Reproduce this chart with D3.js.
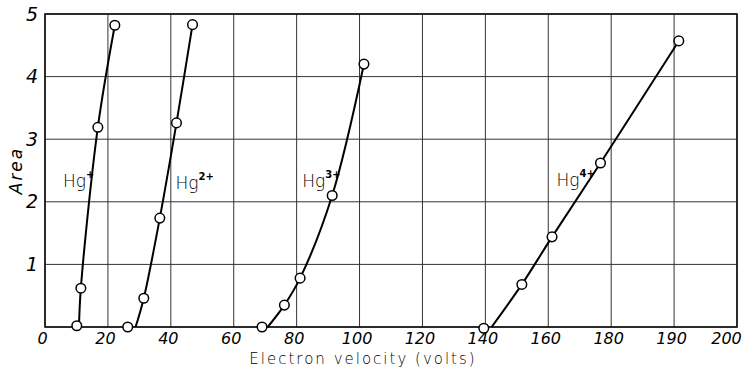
<!DOCTYPE html>
<html>
<head>
<meta charset="utf-8">
<script src="https://cdn.jsdelivr.net/npm/d3@7"></script>
<style>
  body { margin: 0; background: #fff; }
  svg { display: block; }
  .tick text { font-family: "DejaVu Sans", sans-serif; font-style: italic; font-weight: 300; fill: #000; }
</style>
</head>
<body>
<figure id="chart" style="margin:0"></figure>
<script>
// x gridlines (the figure labels its last two lines 190 and 200)
const xTicks = [0, 20, 40, 60, 80, 100, 120, 140, 160, 180, 200, 220];
const xTickLabels = ["0", "20", "40", "60", "80", "100", "120", "140", "160", "180", "190", "200"];
const yTicks = [0, 1, 2, 3, 4, 5];
const yTickLabels = ["", "1", "2", "3", "4", "5"];

// measured points (x in grid units, y = area)
const hg1X = [10.1, 11.4, 16.8, 22.2];
const hg1Y = [0.02, 0.62, 3.19, 4.82];
const hg2X = [26.3, 31.4, 36.5, 41.8, 46.9];
const hg2Y = [0.0, 0.46, 1.74, 3.26, 4.83];
const hg3X = [69.0, 76.1, 81.1, 91.3, 101.4];
const hg3Y = [0.0, 0.35, 0.78, 2.10, 4.20];
const hg4X = [139.5, 151.6, 161.2, 176.6, 201.5];
const hg4Y = [-0.02, 0.68, 1.44, 2.62, 4.57];

// where each drawn curve leaves the x axis
const curveStart = [10.8, 28.8, 70.8, 142.0];

const ionNames = ["Hg", "Hg", "Hg", "Hg"];
const ionCharges = ["+", "2+", "3+", "4+"];
const labelX = [5.7, 41.5, 81.8, 162.6];
const labelY = [2.23, 2.2, 2.23, 2.25];

const series = [
  { x: hg1X, y: hg1Y },
  { x: hg2X, y: hg2Y },
  { x: hg3X, y: hg3Y },
  { x: hg4X, y: hg4Y }
];

const width = 748, height = 368;
const margin = { top: 14, right: 11, bottom: 41, left: 45 };
const w = width - margin.left - margin.right;
const h = height - margin.top - margin.bottom;

const svg = d3.select("figure#chart")
  .append("svg")
  .attr("width", width)
  .attr("height", height)
  .append("g")
  .attr("transform", "translate(" + margin.left + "," + margin.top + ")");

const x = d3.scaleLinear().domain([0, 220]).range([0, w]);
const y = d3.scaleLinear().domain([0, 5]).range([h, 0]);

// grid
svg.append("g")
  .selectAll("line")
  .data(xTicks)
  .enter().append("line")
  .attr("x1", d => x(d)).attr("x2", d => x(d))
  .attr("y1", 0).attr("y2", h)
  .attr("stroke", "#333").attr("stroke-width", 1);

svg.append("g")
  .selectAll("line")
  .data(yTicks)
  .enter().append("line")
  .attr("x1", 0).attr("x2", w)
  .attr("y1", d => y(d)).attr("y2", d => y(d))
  .attr("stroke", "#333").attr("stroke-width", 1);

svg.append("rect")
  .attr("width", w).attr("height", h)
  .attr("fill", "none").attr("stroke", "#111").attr("stroke-width", 1.6);

// axes (labels only)
const xAxis = svg.append("g")
  .attr("transform", "translate(0," + h + ")")
  .call(d3.axisBottom(x).tickValues(xTicks).tickSize(0).tickPadding(6)
    .tickFormat((d, i) => xTickLabels[i]));
xAxis.select(".domain").remove();
xAxis.selectAll("text")
  .attr("font-size", 16)
  .attr("dx", (d, i) => i === xTicks.length - 1 ? -11 : -3);

const yAxis = svg.append("g")
  .call(d3.axisLeft(y).tickValues(yTicks).tickSize(0).tickPadding(7)
    .tickFormat((d, i) => yTickLabels[i]));
yAxis.select(".domain").remove();
yAxis.selectAll("text").attr("font-size", 19);

// curves
const line = d3.line()
  .x(d => x(d[0]))
  .y(d => y(d[1]))
  .curve(d3.curveCatmullRom.alpha(0.5));

series.forEach((s, i) => {
  const pts = [[curveStart[i], 0]].concat(s.x.slice(1).map((v, j) => [v, s.y[j + 1]]));
  svg.append("path")
    .datum(pts)
    .attr("d", line)
    .attr("fill", "none")
    .attr("stroke", "#000")
    .attr("stroke-width", 2);
});

series.forEach(s => {
  svg.append("g")
    .selectAll("circle")
    .data(s.x.map((v, j) => [v, s.y[j]]))
    .enter().append("circle")
    .attr("cx", d => x(d[0]))
    .attr("cy", d => y(d[1]))
    .attr("r", 4.8)
    .attr("fill", "#fff")
    .attr("stroke", "#000")
    .attr("stroke-width", 1.5);
});

// ion labels
ionNames.forEach((name, i) => {
  const t = svg.append("text")
    .attr("x", x(labelX[i]))
    .attr("y", y(labelY[i]))
    .attr("font-family", "DejaVu Sans, sans-serif")
    .attr("font-weight", 300)
    .attr("font-size", 17)
    .attr("fill", "#000")
    .text(name);
  t.append("tspan")
    .attr("dy", -9)
    .attr("font-size", 10)
    .attr("font-weight", 600)
    .text(ionCharges[i]);
});

// axis titles
svg.append("text")
  .attr("x", w / 2 - 28)
  .attr("y", h + 37)
  .attr("text-anchor", "middle")
  .attr("font-family", "DejaVu Sans, sans-serif")
  .attr("font-weight", 300)
  .attr("font-size", 15)
  .attr("letter-spacing", 2)
  .attr("fill", "#000")
  .text("Electron velocity (volts)");

svg.append("text")
  .attr("transform", "translate(" + (-23) + "," + (h / 2) + ") rotate(-90)")
  .attr("text-anchor", "middle")
  .attr("font-family", "DejaVu Sans, sans-serif")
  .attr("font-style", "italic")
  .attr("font-weight", 300)
  .attr("font-size", 17)
  .attr("letter-spacing", 2)
  .attr("fill", "#000")
  .text("Area");
</script>
</body>
</html>
